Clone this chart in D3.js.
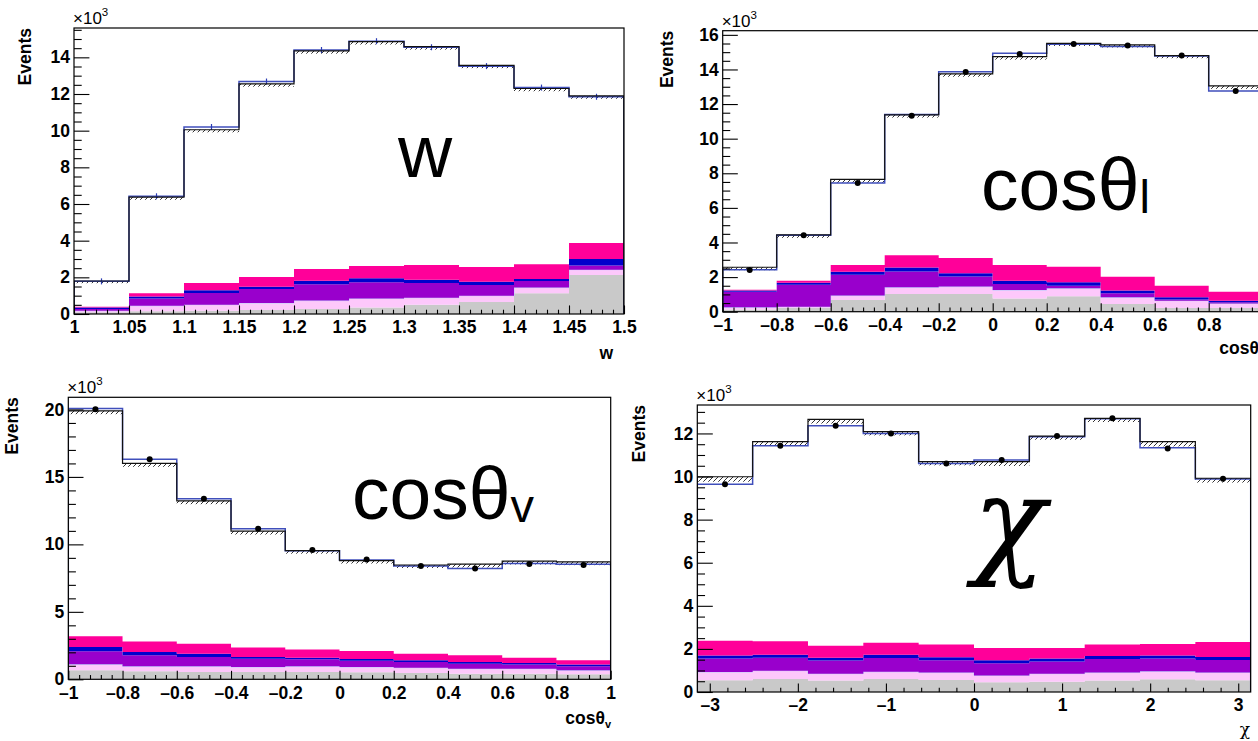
<!DOCTYPE html>
<html>
<head>
<meta charset="utf-8">
<script src="https://cdn.jsdelivr.net/npm/d3@7"></script>
<style>
  body { margin: 0; background: #fff; }
  svg { display: block; }
</style>
</head>
<body>
<script>
// ---------- w distribution (thousands of events per bin) ----------
const wGrey    = [0.09, 0.15, 0.18, 0.22, 0.27, 0.35, 0.51, 0.65, 1.13, 2.13];
const wPink    = [0.09, 0.30, 0.33, 0.38, 0.46, 0.50, 0.38, 0.35, 0.31, 0.29];
const wPurple  = [0.09, 0.40, 0.64, 0.76, 0.89, 0.88, 0.80, 0.58, 0.36, 0.22];
const wBlue    = [0.08, 0.10, 0.14, 0.13, 0.20, 0.22, 0.18, 0.18, 0.11, 0.36];
const wMagenta = [0.05, 0.18, 0.40, 0.53, 0.63, 0.67, 0.80, 0.80, 0.80, 0.87];
const wMC      = [1.80, 6.37, 10.05, 12.55, 14.35, 14.86, 14.58, 13.56, 12.30, 11.90];
const wMCErr   = [0.12, 0.14, 0.14, 0.15, 0.15, 0.16, 0.16, 0.15, 0.15, 0.16];
const wFit     = [1.78, 6.42, 10.20, 12.68, 14.40, 14.88, 14.55, 13.52, 12.35, 11.85];
const wXTicks  = [1, 1.05, 1.1, 1.15, 1.2, 1.25, 1.3, 1.35, 1.4, 1.45, 1.5];
const wYTicks  = [0, 2, 4, 6, 8, 10, 12, 14];

// ---------- cos(theta_l) distribution ----------
const lGrey    = [0.12, 0.21, 0.68, 1.02, 1.02, 0.77, 0.89, 0.44, 0.21, 0.21];
const lPink    = [0.13, 0.08, 0.25, 0.39, 0.43, 0.48, 0.46, 0.39, 0.43, 0.27];
const lPurple  = [0.91, 1.27, 1.21, 0.92, 0.58, 0.35, 0.15, 0.23, 0.07, 0.06];
const lBlue    = [0.06, 0.12, 0.17, 0.23, 0.19, 0.19, 0.20, 0.16, 0.12, 0.10];
const lMagenta = [0.05, 0.11, 0.39, 0.70, 0.88, 0.91, 0.90, 0.80, 0.67, 0.52];
const lMC      = [2.57, 4.44, 7.65, 11.37, 13.75, 14.74, 15.51, 15.42, 14.80, 13.05];
const lMCErr   = [0.17, 0.17, 0.19, 0.15, 0.17, 0.17, 0.15, 0.15, 0.15, 0.17];
const lFit     = [2.43, 4.42, 7.44, 11.40, 13.87, 14.93, 15.45, 15.33, 14.78, 12.76];
const lData    = [2.41, 4.42, 7.44, 11.33, 13.86, 14.90, 15.47, 15.38, 14.80, 12.76];
const lXTicks  = [-1, -0.8, -0.6, -0.4, -0.2, 0, 0.2, 0.4, 0.6, 0.8, 1];
const lYTicks  = [0, 2, 4, 6, 8, 10, 12, 14, 16];

// ---------- cos(theta_V) distribution ----------
const vGrey    = [0.67, 0.59, 0.54, 0.54, 0.54, 0.52, 0.47, 0.42, 0.42, 0.37];
const vPink    = [0.44, 0.37, 0.42, 0.37, 0.42, 0.39, 0.39, 0.37, 0.37, 0.30];
const vPurple  = [0.96, 0.82, 0.69, 0.62, 0.52, 0.47, 0.42, 0.37, 0.30, 0.29];
const vBlue    = [0.33, 0.24, 0.25, 0.12, 0.12, 0.12, 0.13, 0.12, 0.12, 0.13];
const vMagenta = [0.79, 0.79, 0.74, 0.70, 0.60, 0.60, 0.49, 0.50, 0.39, 0.32];
const vMC      = [19.90, 16.00, 13.23, 10.98, 9.53, 8.80, 8.47, 8.54, 8.76, 8.71];
const vMCErr   = [0.25, 0.25, 0.25, 0.25, 0.22, 0.22, 0.22, 0.25, 0.25, 0.25];
const vFit     = [20.07, 16.30, 13.38, 11.16, 9.53, 8.84, 8.39, 8.22, 8.59, 8.52];
const vData    = [20.02, 16.30, 13.38, 11.16, 9.58, 8.87, 8.39, 8.22, 8.54, 8.47];
const vXTicks  = [-1, -0.8, -0.6, -0.4, -0.2, 0, 0.2, 0.4, 0.6, 0.8, 1];
const vYTicks  = [0, 5, 10, 15, 20];

// ---------- chi distribution ----------
const cGrey    = [0.54, 0.60, 0.53, 0.60, 0.56, 0.45, 0.48, 0.53, 0.59, 0.54];
const cPink    = [0.39, 0.39, 0.32, 0.34, 0.34, 0.32, 0.37, 0.37, 0.37, 0.37];
const cPurple  = [0.62, 0.60, 0.61, 0.64, 0.57, 0.56, 0.57, 0.63, 0.60, 0.58];
const cBlue    = [0.14, 0.14, 0.13, 0.15, 0.14, 0.14, 0.14, 0.14, 0.13, 0.13];
const cMagenta = [0.69, 0.62, 0.56, 0.56, 0.59, 0.57, 0.48, 0.53, 0.54, 0.70];
const cMC      = [9.99, 11.62, 12.65, 12.08, 10.69, 10.69, 11.88, 12.70, 11.62, 9.92];
const cMCErr   = [0.23, 0.19, 0.19, 0.17, 0.17, 0.20, 0.17, 0.17, 0.22, 0.20];
const cFit     = [9.64, 11.43, 12.36, 12.00, 10.61, 10.77, 11.85, 12.68, 11.34, 9.89];
const cData    = [9.64, 11.43, 12.36, 12.00, 10.61, 10.77, 11.88, 12.70, 11.30, 9.90];
const cXTicks  = [-3, -2, -1, 0, 1, 2, 3];
const cYTicks  = [0, 2, 4, 6, 8, 10, 12];

const KEYS   = ["grey", "pink", "purple", "blue", "magenta"];
const COLORS = { grey: "#c9c9c9", pink: "#fdc8fb", purple: "#9900cc", blue: "#0000cc", magenta: "#ff0099" };
const SANS  = "'Liberation Sans', Arial, Helvetica, sans-serif";
const SERIF = "'DejaVu Serif', 'Liberation Serif', serif";

const panels = [
  { frame: { l: 74, r: 624, t: 28, b: 314 }, domain: [1, 1.5], yMax: 15.6,
    layers: [wGrey, wPink, wPurple, wBlue, wMagenta], mc: wMC, mcErr: wMCErr, fit: wFit, fitBars: true, data: null,
    xTicks: wXTicks, xMinor: 0.01, yTicks: wYTicks, yMinor: 0.5,
    fmt: d => String(d),
    eventsX: 31, title: { text: "w", sub: null, x: 613, y: 359 },
    big: { x: 398, y: 177, main: "w", sub: null } },
  { frame: { l: 722.7, r: 1262.7, t: 30.7, b: 311.7 }, domain: [-1, 1], yMax: 16.24,
    layers: [lGrey, lPink, lPurple, lBlue, lMagenta], mc: lMC, mcErr: lMCErr, fit: lFit, fitBars: false, data: lData,
    xTicks: lXTicks, xMinor: 0.04, yTicks: lYTicks, yMinor: 0.5,
    fmt: d => d < 0 ? "\u2013" + Math.abs(d) : String(d),
    eventsX: 673, title: { text: "cos\u03b8", sub: "l", x: 1262, y: 354 },
    big: { x: 981, y: 210, main: "cos\u03b8", sub: "l" } },
  { frame: { l: 68.3, r: 610.7, t: 397.3, b: 679.3 }, domain: [-1, 1], yMax: 20.9,
    layers: [vGrey, vPink, vPurple, vBlue, vMagenta], mc: vMC, mcErr: vMCErr, fit: vFit, fitBars: false, data: vData,
    xTicks: vXTicks, xMinor: 0.04, yTicks: vYTicks, yMinor: 1,
    fmt: d => d < 0 ? "\u2013" + Math.abs(d) : String(d),
    eventsX: 18, title: { text: "cos\u03b8", sub: "v", x: 611, y: 724 },
    big: { x: 352, y: 519, main: "cos\u03b8", sub: "v" } },
  { frame: { l: 697.3, r: 1250.7, t: 405, b: 692 }, domain: [-Math.PI, Math.PI], yMax: 13.32,
    layers: [cGrey, cPink, cPurple, cBlue, cMagenta], mc: cMC, mcErr: cMCErr, fit: cFit, fitBars: false, data: cData,
    xTicks: cXTicks, xMinor: 0.2, yTicks: cYTicks, yMinor: 0.5,
    fmt: d => d < 0 ? "\u2013" + Math.abs(d) : String(d),
    eventsX: 645, title: { text: "\u03c7", sub: null, x: 1250, y: 735, serif: true },
    big: { x: 973, y: 562, main: "\u03c7", sub: null, serif: true } }
];

const svg = d3.select("body").append("svg")
  .attr("width", 1258).attr("height", 741)
  .attr("viewBox", "0 0 1258 741");

const defs = svg.append("defs");
const pat = defs.append("pattern").attr("id", "hatch")
  .attr("patternUnits", "userSpaceOnUse").attr("width", 5).attr("height", 5);
pat.append("path").attr("d", "M-1,6 L6,-1 M-1,1 L1,-1 M4,6 L6,4")
  .attr("stroke", "#000").attr("stroke-width", 0.8);

panels.forEach((p, pi) => {
  const f = p.frame;
  const x = d3.scaleLinear().domain(p.domain).range([f.l, f.r]);
  const y = d3.scaleLinear().domain([0, p.yMax]).range([f.b, f.t]);
  const nb = p.mc.length;
  const edges = d3.range(nb + 1).map(i => p.domain[0] + i * (p.domain[1] - p.domain[0]) / nb);

  const g = svg.append("g");
  const clipId = "clip" + pi;
  defs.append("clipPath").attr("id", clipId).append("rect")
    .attr("x", f.l).attr("y", f.t).attr("width", f.r - f.l).attr("height", f.b - f.t);
  const plot = g.append("g").attr("clip-path", `url(#${clipId})`);

  // stacked background components
  const rows = d3.range(nb).map(i => {
    const r = {};
    KEYS.forEach((k, j) => r[k] = p.layers[j][i]);
    return r;
  });
  const series = d3.stack().keys(KEYS)(rows);
  const area = d3.area().x(d => d.x).y0(d => y(d.lo)).y1(d => y(d.hi));
  series.forEach(s => {
    const pts = [];
    s.forEach((v, i) => {
      pts.push({ x: x(edges[i]), lo: v[0], hi: v[1] });
      pts.push({ x: x(edges[i + 1]), lo: v[0], hi: v[1] });
    });
    plot.append("path").attr("d", area(pts)).attr("fill", COLORS[s.key]).attr("stroke", "none");
    if (s.key === "pink") {
      const top = d3.line().x(d => d.x).y(d => y(d.hi));
      plot.append("path").attr("d", top(pts)).attr("fill", "none")
        .attr("stroke", "#b9cdfb").attr("stroke-width", 1);
    }
  });

  // hatched uncertainty band under the summed prediction
  plot.selectAll(null).data(p.mc).join("rect")
    .attr("x", (d, i) => x(edges[i]))
    .attr("width", (d, i) => x(edges[i + 1]) - x(edges[i]))
    .attr("y", d => y(d))
    .attr("height", (d, i) => y(d - p.mcErr[i]) - y(d))
    .attr("fill", "url(#hatch)");

  // step outline helper
  const stepPath = vals => {
    let s = `M${x(edges[0])},${y(0)}`;
    vals.forEach((v, i) => { s += `L${x(edges[i])},${y(v)}L${x(edges[i + 1])},${y(v)}`; });
    s += `L${x(edges[nb])},${y(0)}`;
    return s;
  };

  // fitted distribution (blue)
  plot.append("path").attr("d", stepPath(p.fit)).attr("fill", "none")
    .attr("stroke", "#2b3cb4").attr("stroke-width", 1.5).attr("stroke-opacity", 0.9);
  if (p.fitBars) {
    plot.selectAll(null).data(p.fit).join("line")
      .attr("x1", (d, i) => x((edges[i] + edges[i + 1]) / 2))
      .attr("x2", (d, i) => x((edges[i] + edges[i + 1]) / 2))
      .attr("y1", d => y(d) - 3).attr("y2", d => y(d) + 3)
      .attr("stroke", "#2b3cb4").attr("stroke-width", 1.2);
  }

  // summed prediction (black)
  plot.append("path").attr("d", stepPath(p.mc)).attr("fill", "none")
    .attr("stroke", "#111").attr("stroke-width", 1.2);

  // data points
  if (p.data) {
    plot.selectAll(null).data(p.data).join("circle")
      .attr("cx", (d, i) => x((edges[i] + edges[i + 1]) / 2))
      .attr("cy", d => y(d)).attr("r", 3).attr("fill", "#000");
  }

  // axes with ticks drawn inside the frame
  const yMajorLen = 0.028 * (f.r - f.l), xMajorLen = 0.03 * (f.b - f.t);
  const yMinorVals = d3.range(0, p.yMax + 1e-9, p.yMinor).filter(v => !p.yTicks.some(t => Math.abs(t - v) < 1e-9));
  const start = Math.ceil((p.domain[0] - 1e-9) / p.xMinor) * p.xMinor;
  const xMinorVals = d3.range(start, p.domain[1] + 1e-9, p.xMinor)
    .filter(v => !p.xTicks.some(t => Math.abs(t - v) < 1e-6));

  const styleAxis = sel => {
    sel.select(".domain").remove();
    sel.selectAll("line").attr("stroke", "#000").attr("stroke-width", 1.1);
    sel.selectAll("text").attr("font-family", SANS).attr("font-weight", "bold")
      .attr("font-size", 17.5).attr("fill", "#000");
  };

  g.append("g").attr("transform", `translate(${f.l},0)`)
    .call(d3.axisLeft(y).tickValues(yMinorVals).tickSize(-yMajorLen / 2).tickFormat(""))
    .call(styleAxis);
  g.append("g").attr("transform", `translate(${f.l},0)`)
    .call(d3.axisLeft(y).tickValues(p.yTicks).tickSize(-yMajorLen).tickPadding(4).tickFormat(d => String(d)))
    .call(styleAxis);
  g.append("g").attr("transform", `translate(0,${f.b})`)
    .call(d3.axisBottom(x).tickValues(xMinorVals).tickSize(-xMajorLen / 2).tickFormat(""))
    .call(styleAxis);
  g.append("g").attr("transform", `translate(0,${f.b})`)
    .call(d3.axisBottom(x).tickValues(p.xTicks).tickSize(-xMajorLen).tickPadding(7).tickFormat(p.fmt))
    .call(styleAxis);

  // frame
  g.append("rect").attr("x", f.l).attr("y", f.t)
    .attr("width", f.r - f.l).attr("height", f.b - f.t)
    .attr("fill", "none").attr("stroke", "#000").attr("stroke-width", 1.2);

  // exponent marker
  const ex = g.append("text").attr("x", f.l - 1).attr("y", f.t - 4)
    .attr("font-family", SANS).attr("font-size", 17).attr("fill", "#000");
  ex.append("tspan").text("\u00d710");
  ex.append("tspan").attr("font-size", 11.5).attr("dy", -8).text("3");

  // y-axis title
  g.append("text")
    .attr("transform", `translate(${p.eventsX},${f.t}) rotate(-90)`)
    .attr("text-anchor", "end")
    .attr("font-family", SANS).attr("font-weight", "bold").attr("font-size", 17.5)
    .text("Events");

  // x-axis title
  const t = g.append("text").attr("x", p.title.x).attr("y", p.title.y)
    .attr("text-anchor", "end")
    .attr("font-family", p.title.serif ? SERIF : SANS)
    .attr("font-weight", p.title.serif ? "normal" : "bold")
    .attr("font-size", p.title.serif ? 17 : 17.5);
  t.append("tspan").text(p.title.text);
  if (p.title.sub) t.append("tspan").attr("font-size", 11).attr("dy", 4).text(p.title.sub);

  // large variable label
  const b = g.append("text").attr("x", p.big.x).attr("y", p.big.y)
    .attr("font-family", p.big.serif ? SERIF : SANS)
    .attr("font-style", p.big.serif ? "italic" : "normal")
    .attr("font-size", p.big.serif ? 120 : 75).attr("fill", "#000");
  b.append("tspan").text(p.big.main);
  if (p.big.sub) b.append("tspan").attr("font-size", 47).attr("dy", 3).text(p.big.sub);
});
</script>
</body>
</html>
